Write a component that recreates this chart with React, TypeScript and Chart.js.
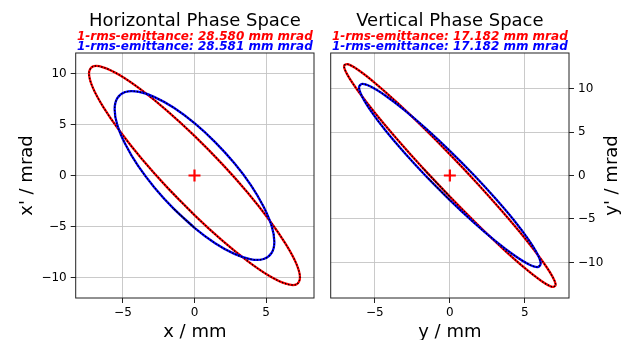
import { useEffect, useRef } from "react";
import { Chart, registerables } from "chart.js";

Chart.register(...registerables);

// Horizontal phase space (x / mm, x' / mrad)
const hRedX = [0, -1.91, -3.69, -5.21, -6.38, -7.12, -7.37, -7.12, -6.38, -5.21, -3.69, -1.91, 0, 1.91, 3.69, 5.21, 6.38, 7.12, 7.37, 7.12, 6.38, 5.21, 3.69, 1.91, 0, -1.91];
const hRedY = [-3.88, -1.16, 1.64, 4.33, 6.73, 8.66, 10.01, 10.67, 10.6, 9.82, 8.36, 6.34, 3.88, 1.16, -1.64, -4.33, -6.73, -8.66, -10.01, -10.67, -10.6, -9.82, -8.36, -6.34, -3.88, -1.16];
const hBlueX = [0, -1.44, -2.79, -3.95, -4.83, -5.39, -5.58, -5.39, -4.83, -3.95, -2.79, -1.44, 0, 1.44, 2.79, 3.95, 4.83, 5.39, 5.58, 5.39, 4.83, 3.95, 2.79, 1.44, 0, -1.44];
const hBlueY = [-5.12, -3.27, -1.19, 0.96, 3.06, 4.94, 6.49, 7.59, 8.18, 8.21, 7.68, 6.63, 5.12, 3.27, 1.19, -0.96, -3.06, -4.94, -6.49, -7.59, -8.18, -8.21, -7.68, -6.63, -5.12, -3.27];

// Vertical phase space (y / mm, y' / mrad)
const vRedX = [0, -1.83, -3.53, -4.99, -6.11, -6.82, -7.06, -6.82, -6.11, -4.99, -3.53, -1.83, 0, 1.83, 3.53, 4.99, 6.11, 6.82, 7.06, 6.82, 6.11, 4.99, 3.53, 1.83, 0, -1.83];
const vRedY = [-2.43, 0.91, 4.2, 7.19, 9.7, 11.55, 12.61, 12.81, 12.14, 10.64, 8.41, 5.61, 2.43, -0.91, -4.2, -7.19, -9.7, -11.55, -12.61, -12.81, -12.14, -10.64, -8.41, -5.61, -2.43, 0.91];
const vBlueX = [0, -1.57, -3.03, -4.29, -5.25, -5.85, -6.06, -5.85, -5.25, -4.29, -3.03, -1.57, 0, 1.57, 3.03, 4.29, 5.25, 5.85, 6.06, 5.85, 5.25, 4.29, 3.03, 1.57, 0, -1.57];
const vBlueY = [-2.84, -0.11, 2.62, 5.17, 7.38, 9.07, 10.15, 10.54, 10.21, 9.18, 7.53, 5.37, 2.84, 0.11, -2.62, -5.17, -7.38, -9.07, -10.15, -10.54, -10.21, -9.18, -7.53, -5.37, -2.84, -0.11];

const centerX = [0];
const centerY = [0];

const xTicks = [-5, 0, 5];
const yTicks = [-10, -5, 0, 5, 10];

const hXLim = [-8.3, 8.35];
const hYLim = [-12, 12];
const vXLim = [-7.95, 7.95];
const vYLim = [-14.1, 14.1];

const hTitle = "Horizontal Phase Space";
const vTitle = "Vertical Phase Space";
const hEmit = ["28.580", "28.581"];
const vEmit = ["17.182", "17.182"];

const FONT = '"DejaVu Sans", sans-serif';
const RED = "#ff0000";
const BLUE = "#0000ff";

const pts = (xs: number[], ys: number[]) => xs.map((x, i) => ({ x, y: ys[i] }));
const fmt = (v: number) => (v < 0 ? "\u2212" + Math.abs(v) : String(v));

function lineSets(xs: number[], ys: number[], color: string, base: number) {
  return [
    {
      data: pts(xs, ys),
      showLine: true,
      borderColor: color,
      borderWidth: 2.3,
      pointRadius: 0,
      tension: 0.34,
      fill: false,
      order: base + 1,
    },
    {
      data: pts(xs, ys),
      showLine: true,
      borderColor: "#000000",
      borderWidth: 1.4,
      borderDash: [1.4, 1.8],
      pointRadius: 0,
      tension: 0.34,
      fill: false,
      order: base,
    },
  ];
}

type Panel = {
  title: string;
  emit: string[];
  xLabel: string;
  yLabel: string;
  right: boolean;
  xLim: number[];
  yLim: number[];
  red: [number[], number[]];
  blue: [number[], number[]];
};

function textPlugin(p: Panel) {
  return {
    id: "texts",
    afterDraw(chart: any) {
      const ctx = chart.ctx as CanvasRenderingContext2D;
      const a = chart.chartArea;
      const cx = (a.left + a.right) / 2;
      const cy = (a.top + a.bottom) / 2;
      ctx.save();
      // spines
      ctx.strokeStyle = "#222222";
      ctx.lineWidth = 1;
      ctx.strokeRect(a.left, a.top, a.right - a.left, a.bottom - a.top);
      ctx.textAlign = "center";
      ctx.textBaseline = "alphabetic";
      ctx.fillStyle = "#000000";
      ctx.font = `18px ${FONT}`;
      ctx.fillText(p.title, cx, a.top - 27);
      ctx.font = `italic bold 12px ${FONT}`;
      ctx.fillStyle = RED;
      ctx.fillText(`1-rms-emittance: ${p.emit[0]} mm mrad`, cx, a.top - 13.2);
      ctx.fillStyle = BLUE;
      ctx.fillText(`1-rms-emittance: ${p.emit[1]} mm mrad`, cx, a.top - 3.3);
      ctx.fillStyle = "#000000";
      ctx.font = `18px ${FONT}`;
      ctx.fillText(p.xLabel, cx, a.bottom + 39);
      ctx.translate(p.right ? a.right + 48 : a.left - 44, cy);
      ctx.rotate(-Math.PI / 2);
      ctx.fillText(p.yLabel, 0, 0);
      ctx.restore();
    },
  };
}

function makeChart(canvas: HTMLCanvasElement, p: Panel) {
  const W = 627;
  const H = 340;
  const left = p.right ? 330.7 : 75.7;
  const right = p.right ? 569 : 314;
  const top = 53;
  const bottom = 298;
  const tickFont = { family: FONT, size: 12 };
  const grid = {
    color: "#c4c4c4",
    lineWidth: 0.9,
    tickColor: "#222222",
    tickLength: 5,
    tickWidth: 1,
    drawTicks: true,
  };
  return new Chart(canvas, {
    type: "scatter",
    data: {
      datasets: [
        {
          data: pts(centerX, centerY),
          pointStyle: "cross",
          pointRadius: 6,
          borderColor: RED,
          borderWidth: 2.2,
          showLine: false,
          order: 0,
        },
        ...lineSets(p.blue[0], p.blue[1], BLUE, 1),
        ...lineSets(p.red[0], p.red[1], RED, 3),
      ] as any,
    },
    options: {
      animation: false,
      responsive: false,
      devicePixelRatio: 1,
      events: [],
      layout: {
        padding: {
          left: p.right ? left : 0,
          right: p.right ? 0 : W - right,
          top,
          bottom: 0,
        },
      },
      plugins: {
        legend: { display: false },
        tooltip: { enabled: false },
        title: { display: false },
      },
      scales: {
        x: {
          type: "linear",
          position: "bottom",
          min: p.xLim[0],
          max: p.xLim[1],
          afterBuildTicks: (s: any) => {
            s.ticks = xTicks.map((v) => ({ value: v }));
          },
          afterFit: (s: any) => {
            s.height = H - bottom;
          },
          ticks: {
            font: tickFont,
            color: "#000000",
            padding: 3,
            maxRotation: 0,
            autoSkip: false,
            callback: (v: any) => fmt(Number(v)),
          },
          grid,
          border: { display: false },
        },
        y: {
          type: "linear",
          position: p.right ? "right" : "left",
          min: p.yLim[0],
          max: p.yLim[1],
          afterBuildTicks: (s: any) => {
            s.ticks = yTicks.map((v) => ({ value: v }));
          },
          afterFit: (s: any) => {
            s.width = p.right ? W - right : left;
          },
          ticks: {
            font: tickFont,
            color: "#000000",
            padding: 4,
            autoSkip: false,
            callback: (v: any) => fmt(Number(v)),
          },
          grid,
          border: { display: false },
        },
      },
    } as any,
    plugins: [textPlugin(p)],
  });
}

const hPanel: Panel = {
  title: hTitle,
  emit: hEmit,
  xLabel: "x / mm",
  yLabel: "x' / mrad",
  right: false,
  xLim: hXLim,
  yLim: hYLim,
  red: [hRedX, hRedY],
  blue: [hBlueX, hBlueY],
};

const vPanel: Panel = {
  title: vTitle,
  emit: vEmit,
  xLabel: "y / mm",
  yLabel: "y' / mrad",
  right: true,
  xLim: vXLim,
  yLim: vYLim,
  red: [vRedX, vRedY],
  blue: [vBlueX, vBlueY],
};

export default function App() {
  const ref1 = useRef<HTMLCanvasElement>(null);
  const ref2 = useRef<HTMLCanvasElement>(null);
  useEffect(() => {
    const c1 = makeChart(ref1.current!, hPanel);
    const c2 = makeChart(ref2.current!, vPanel);
    return () => {
      c1.destroy();
      c2.destroy();
    };
  }, []);
  const style: any = { position: "absolute", left: 0, top: 0, width: 627, height: 340, display: "block" };
  return (
    <div style={{ position: "absolute", left: 0, top: 0, width: 627, height: 340, background: "#ffffff" }}>
      <canvas ref={ref1} width={627} height={340} style={style} />
      <canvas ref={ref2} width={627} height={340} style={style} />
    </div>
  );
}
